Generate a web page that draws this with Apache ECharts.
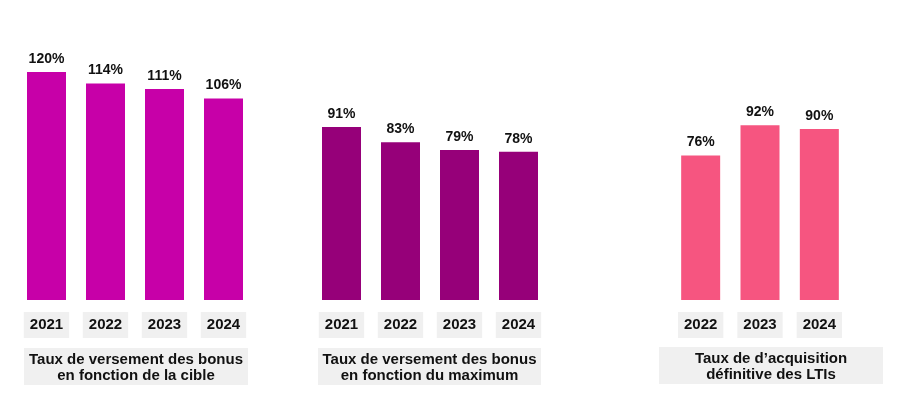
<!DOCTYPE html>
<html>
<head>
<meta charset="utf-8">
<script src="https://cdn.jsdelivr.net/npm/echarts@6/dist/echarts.min.js"></script>
<style>
  html, body { margin: 0; padding: 0; background: #fff; }
  #main { width: 900px; height: 403px; }
</style>
</head>
<body>
<div id="main"></div>
<script>
// data
var cibleYears = ['2021', '2022', '2023', '2024'];
var cibleValues = [120, 114, 111, 106];
var maxYears = ['2021', '2022', '2023', '2024'];
var maxValues = [91, 83, 79, 78];
var ltiYears = ['2022', '2023', '2024'];
var ltiValues = [76, 92, 90];
var titles = [
	'Taux de versement des bonus\nen fonction de la cible',
	'Taux de versement des bonus\nen fonction du maximum',
	'Taux de d\u2019acquisition\nd\u00e9finitive des LTIs'
];
var colors = ['#c700a8', '#960079', '#f65580'];

var font = 'Liberation Sans, Arial, sans-serif';
var dom = document.getElementById('main');
var myChart = echarts.init(dom);

var groups = [
	{years: cibleYears, values: cibleValues, left: 17, width: 236, box: [24, 348, 224, 37]},
	{years: maxYears, values: maxValues, left: 312, width: 236, box: [318, 348, 223, 37]},
	{years: ltiYears, values: ltiValues, left: 671, width: 178, box: [659, 347, 224, 37]}
];

var grid = [], xAxis = [], yAxis = [], series = [], graphic = [];
for (var i = 0; i < groups.length; i++) {
	var g = groups[i];
	grid.push({left: g.left, width: g.width, top: 72, height: 228});
	xAxis.push({
		type: 'category',
		gridIndex: i,
		data: g.years,
		axisLine: {show: false},
		axisTick: {show: false},
		axisLabel: {
			margin: 12,
			fontFamily: font,
			fontWeight: 'bold',
			fontSize: 15,
			color: '#111',
			backgroundColor: '#f0f0f0',
			padding: [5, 6, 5, 6],
			lineHeight: 16
		}
	});
	yAxis.push({
		type: 'value',
		gridIndex: i,
		min: 0,
		max: 120,
		show: false
	});
	series.push({
		type: 'bar',
		xAxisIndex: i,
		yAxisIndex: i,
		data: g.values,
		barWidth: 39,
		itemStyle: {color: colors[i]},
		label: {
			show: true,
			position: 'top',
			distance: 6,
			formatter: '{c}%',
			fontFamily: font,
			fontWeight: 'bold',
			fontSize: 14,
			color: '#111'
		}
	});
	graphic.push({
		type: 'rect',
		shape: {x: g.box[0], y: g.box[1], width: g.box[2], height: g.box[3]},
		style: {fill: '#f0f0f0'}
	});
	graphic.push({
		type: 'text',
		x: g.box[0] + g.box[2] / 2,
		y: g.box[1] + g.box[3] / 2 + 1,
		style: {
			text: titles[i],
			font: 'bold 15px ' + font,
			fill: '#111',
			align: 'center',
			verticalAlign: 'middle',
			lineHeight: 16
		}
	});
}

var option = {
	animation: false,
	grid: grid,
	xAxis: xAxis,
	yAxis: yAxis,
	series: series,
	graphic: graphic
};
myChart.setOption(option);
</script>
</body>
</html>
